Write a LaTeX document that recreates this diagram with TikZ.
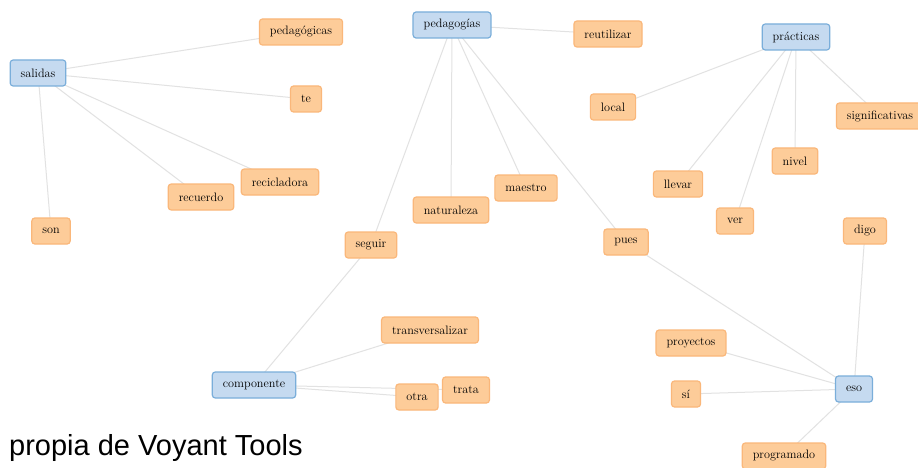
\documentclass[tikz,border=0pt]{standalone}
\usepackage{fontspec}
\newfontfamily\capfont{Liberation Sans}
\usetikzlibrary{backgrounds}
\definecolor{ofill}{RGB}{253,204,153}
\definecolor{oline}{RGB}{250,183,122}
\definecolor{bfill}{RGB}{197,218,240}
\definecolor{bline}{RGB}{122,174,218}
\definecolor{eline}{RGB}{226,226,226}
\tikzset{
  word/.style={draw=oline, fill=ofill, line width=1.2pt, rounded corners=3pt,
    inner xsep=10.5pt, inner ysep=0pt, minimum height=26pt,
    font=\fontsize{12.2}{14}\selectfont, text=black},
  hub/.style={word, draw=bline, fill=bfill},
  link/.style={draw=eline, line width=1pt}
}
\begin{document}
\begin{tikzpicture}[x=1pt,y=-1pt]
\useasboundingbox (0,0) rectangle (918,468);
% hubs
\node[hub] (salidas) at (38,73) {salidas};
\node[hub] (pedagogias) at (452,25) {pedagogías};
\node[hub] (practicas) at (796,37) {prácticas};
\node[hub] (componente) at (254,385) {componente};
\node[hub] (eso) at (854,389) {eso};
% words
\node[word] (pedagogicas) at (301,32) {pedagógicas};
\node[word] (te) at (306,99) {te};
\node[word] (recicladora) at (280,182) {recicladora};
\node[word] (recuerdo) at (201,197) {recuerdo};
\node[word] (son) at (51,231) {son};
\node[word] (reutilizar) at (608,34) {reutilizar};
\node[word] (local) at (613,107) {local};
\node[word] (maestro) at (526,188) {maestro};
\node[word] (naturaleza) at (451,210) {naturaleza};
\node[word] (seguir) at (371,245) {seguir};
\node[word] (pues) at (626,242) {pues};
\node[word] (significativas) at (880,116) {significativas};
\node[word] (nivel) at (795,161) {nivel};
\node[word] (llevar) at (678,184) {llevar};
\node[word] (ver) at (735,221) {ver};
\node[word] (digo) at (865,231) {digo};
\node[word] (transversalizar) at (430,330) {transversalizar};
\node[word] (otra) at (417,397) {otra};
\node[word] (trata) at (466,390) {trata};
\node[word] (proyectos) at (691,343) {proyectos};
\node[word] (si) at (686,394) {sí};
\node[word] (programado) at (784,456) {programado};
% caption
\node[anchor=base west, inner sep=0pt, font=\capfont\fontsize{29}{33}\selectfont, text=black] (caption) at (9,455) {propia de Voyant Tools};
% links
\begin{scope}[on background layer]
\fill[white] (0,0) rectangle (918,468);
\foreach \a/\b in {salidas/pedagogicas, salidas/te, salidas/recicladora, salidas/recuerdo, salidas/son,
  pedagogias/reutilizar, pedagogias/seguir, pedagogias/naturaleza, pedagogias/maestro, pedagogias/pues,
  practicas/local, practicas/llevar, practicas/ver, practicas/nivel, practicas/significativas,
  componente/seguir, componente/transversalizar, componente/otra, componente/trata,
  eso/pues, eso/proyectos, eso/si, eso/programado, eso/digo}
  \draw[link] (\a.center) -- (\b.center);
\end{scope}
\end{tikzpicture}
\end{document}
